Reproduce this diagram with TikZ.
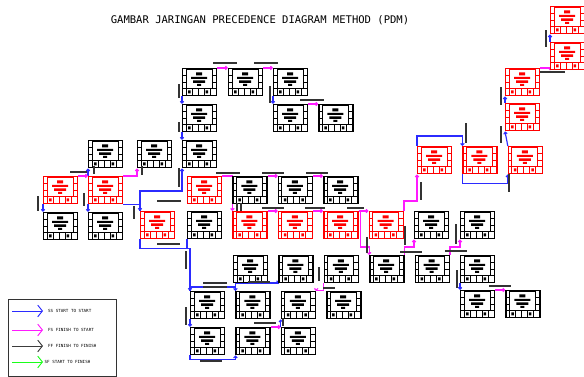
\documentclass[tikz,border=0pt]{standalone}
\usepackage{fontspec}
\newfontfamily\cadfont{DejaVu Sans Mono}
\usetikzlibrary{arrows.meta, positioning, backgrounds}
\definecolor{pdmred}{HTML}{FF0000}
\definecolor{ssblue}{HTML}{2B2BFF}
\definecolor{fsmagenta}{HTML}{FF1AFF}
\definecolor{ffgrey}{HTML}{3C3C3C}
\definecolor{sfgreen}{HTML}{1AFF1A}

% cells of one activity box: #1 node name, #2 colour
\newcommand\taskcells[2]{%
  \begin{scope}[shift={(#1.north west)}, draw=#2, fill=#2, line width=0.6pt]
    \draw (4,1.5) rectangle (30,20.5);
    \draw (0,20.5) -- (34,20.5);
    \draw (0,7.5) -- (4,7.5) (0,14) -- (4,14) (30,7.5) -- (34,7.5) (30,14) -- (34,14);
    \foreach \cx in {4,10,16,22,28} \draw (\cx,20.5) -- (\cx,27);
    \fill (6,22.5) rectangle (8.5,25.5) (23.5,22.5) rectangle (26,25.5);
    \fill (14,4.5) rectangle (20,7.5) (9,9) rectangle (25,11) (11,12.5) rectangle (23,15)
          (15,16) rectangle (19,18);
  \end{scope}}

\begin{document}
\begin{tikzpicture}[
  x=0.03cm, y=-0.03cm,
  taskbox/.style={
    rectangle, draw=#1, fill=white, line width=1.2pt, inner sep=0pt,
    minimum width=1.02cm, minimum height=0.81cm, anchor=north west,
  },
  ss/.style={draw=ssblue, line width=1pt, -{Straight Barb[length=1.5pt,width=3pt]}},
  fs/.style={draw=fsmagenta, line width=1pt, -{Straight Barb[length=1.5pt,width=3pt]}},
  lbl/.style={fill=black!80},
  keyline/.style={line width=0.8pt, -{Straight Barb[length=4pt,width=10pt]}},
  keytext/.style={font=\cadfont\fontsize{3.6}{4}\selectfont, text=black, inner sep=0pt, anchor=west},
  node distance=0.3cm,
]
  \useasboundingbox (0,0) rectangle (584,377);

  % Title
  \node[font=\cadfont\fontsize{9}{10}\selectfont] (title) at (260,20.5)
    {GAMBAR JARINGAN PRECEDENCE DIAGRAM METHOD (PDM)};

  % Upper branch
  \node[taskbox=black] (a1) at (182,68) {};
  \node[taskbox=black] (a2) at (228,68) {};
  \node[taskbox=black] (a3) at (273,68) {};
  \node[taskbox=black] (b1) at (182,104) {};
  \node[taskbox=black] (b2) at (273,104) {};
  \node[taskbox=black, right=of b2] (b3) {};
  \node[taskbox=black] (c1) at (88,140) {};
  \node[taskbox=black] (c2) at (137,140) {};
  \node[taskbox=black] (c3) at (182,140) {};

  % Rows 4 and 5
  \node[taskbox=pdmred] (d1) at (43,176) {};
  \node[taskbox=pdmred] (d2) at (88,176) {};
  \node[taskbox=pdmred] (d3) at (187,176) {};
  \node[taskbox=black, right=of d3] (d4) {};
  \node[taskbox=black, right=of d4] (d5) {};
  \node[taskbox=black, right=of d5] (d6) {};

  \node[taskbox=black] (e1) at (43,212) {};
  \node[taskbox=black] (e2) at (88,212) {};
  \node[taskbox=pdmred] (e3) at (140,211) {};
  \node[taskbox=black] (e4) at (187,211) {};
  \node[taskbox=pdmred, right=of e4] (e5) {};
  \node[taskbox=pdmred, right=of e5] (e6) {};
  \node[taskbox=pdmred, right=of e6] (e7) {};
  \node[taskbox=pdmred, right=of e7] (e8) {};
  \node[taskbox=black, right=of e8] (e9) {};
  \node[taskbox=black] (e10) at (460,211) {};

  % Lower rows
  \node[taskbox=black] (f1) at (233,255) {};
  \node[taskbox=black, right=of f1] (f2) {};
  \node[taskbox=black, right=of f2] (f3) {};
  \node[taskbox=black, right=of f3] (f4) {};
  \node[taskbox=black, right=of f4] (f5) {};
  \node[taskbox=black] (f6) at (460,255) {};

  \node[taskbox=black] (g1) at (190,291) {};
  \node[taskbox=black, right=of g1] (g2) {};
  \node[taskbox=black, right=of g2] (g3) {};
  \node[taskbox=black, right=of g3] (g4) {};
  \node[taskbox=black] (g5) at (460,290) {};
  \node[taskbox=black, right=of g5] (g6) {};

  \node[taskbox=black] (h1) at (190,327) {};
  \node[taskbox=black, right=of h1] (h2) {};
  \node[taskbox=black, right=of h2] (h3) {};

  % Right critical column
  \node[taskbox=pdmred] (r1) at (417,146) {};
  \node[taskbox=pdmred, right=of r1] (r2) {};
  \node[taskbox=pdmred, right=of r2] (r3) {};
  \node[taskbox=pdmred] (r4) at (505,103) {};
  \node[taskbox=pdmred] (r5) at (505,68) {};
  \node[taskbox=pdmred] (r6) at (550,42) {};
  \node[taskbox=pdmred] (r7) at (550,6) {};

  % box cells
  \foreach \n in {a1,a2,a3,b1,b2,b3,c1,c2,c3,d4,d5,d6,e1,e2,e4,e9,e10,
                  f1,f2,f3,f4,f5,f6,g1,g2,g3,g4,g5,g6,h1,h2,h3}
    {\taskcells{\n}{black}}
  \foreach \n in {d1,d2,d3,e3,e5,e6,e7,e8,r1,r2,r3,r4,r5,r6,r7}
    {\taskcells{\n}{pdmred}}

  % Legend
  \node[draw=black!80, line width=0.8pt, minimum width=3.24cm, minimum height=2.31cm,
        inner sep=0pt, anchor=north west] (key) at (8,299) {};
  \draw[keyline, ssblue] (12,311) -- (43,311) node[keytext, right=4pt] (kss) {SS START TO START};
  \draw[keyline, fsmagenta] (12,330) -- (43,330) node[keytext, right=4pt] (kfs) {FS FINISH TO START};
  \draw[keyline, ffgrey] (12,346) -- (43,346) node[keytext, right=4pt] (kff) {FF FINISH TO FINISH};
  \draw[keyline, sfgreen] (12,362) -- (43,362) node[keytext, right=1pt] (ksf) {SF START TO FINISH};

  % Links
  \begin{scope}[on background layer]
    \draw[fs] (a1.north east) -- (a2.north west);
    \draw[fs] (a2.north east) -- (a3.north west);
    \draw[ss] (a1.south west) -- (b1.north west);
    \draw[ss] (a3.south west) -- (b2.north west);
    \draw[fs] (b2.north east) -- (b3.north west);
    \draw[ss] (b1.south west) -- (c3.north west);

    \draw[ss] (d2.north west) -- (c1.south west);
    \draw[fs] (d1.north east) -- (d2.north west);
    \draw[fs] (d2.north east) -| (c2.south west);
    \draw[ss] (d1.south west) -- (e1.north west);
    \draw[ss] (d2.south west) -- (e2.north west);
    \draw[ss] (d2.south east) -| (e3.north west);
    \draw[ss] (e3.north west) -- ++(0,-20) -| (c3.south west);
    \draw[fs] (d3.north east) -| (e5.north west);
    \draw[fs] (d4.north east) -- (d5.north west);
    \draw[fs] (d5.north east) -- (d6.north west);

    \draw[fs] (e5.north east) -- (e6.north west);
    \draw[fs] (e6.north east) -- (e7.north west);
    \draw[fs] (e7.north east) -- (e8.north west);
    \draw[fs] (e7.north east) -- ++(2,0) -- ++(0,36) -| (f4.north west);
    \draw[fs] (e8.north east) -- ++(0,-10) -| (r1.south west);
    \draw[fs] (f4.north east) -- ++(0,-8) -| (e9.south west);
    \draw[fs] (f5.north east) -- ++(0,-8) -| (e10.south west);
    \draw[ss] (f6.south west) -- (g5.north west);
    \draw[fs] (g5.north east) -- (g6.north west);

    \draw[ss] (e3.south west) -- ++(0,9) -| (g1.north west);
    \draw[draw=ssblue, line width=1pt] (e4.south west) -- ++(0,9);
    \draw[ss] (g1.south west) -- (h1.north west);
    \draw[ss] (h1.south west) -- ++(0,4) -| (h2.south west);
    \draw[ss] (g1.north west) -- ++(0,-4) -| (g2.north west);
    \draw[ss] (g2.north west) -- ++(0,-8) -| (f2.south west);
    \draw[fs] (h2.north east) -- (h3.north west);
    \draw[ss] (h3.north west) -- (g3.south west);
    \draw[fs] (f3.south west) -- ++(0,7) -| (g3.north east);

    \draw[ss] (r1.north west) -- ++(0,-10) -| (r2.north west);
    \draw[ss] (r2.south west) -- ++(0,9) -| (r3.south west);
    \draw[ss] (r3.north west) -- (r4.south west);
    \draw[ss] (r4.north west) -- (r5.south west);
    \draw[fs] (r5.north east) -| (r6.south west);
    \draw[ss] (r6.north west) -- (r7.south west);
  \end{scope}

  % Lag labels (too small to read)
  \fill[lbl] (213,62) rectangle ++(24,2);
  \fill[lbl] (254,62) rectangle ++(24,2);
  \fill[lbl] (300,99) rectangle ++(24,2);
  \fill[lbl] (70,171) rectangle ++(17,2);
  \fill[lbl] (157,200) rectangle ++(24,2);
  \fill[lbl] (216,172) rectangle ++(24,2);
  \fill[lbl] (262,172) rectangle ++(22,2);
  \fill[lbl] (306,172) rectangle ++(22,2);
  \fill[lbl] (262,207) rectangle ++(22,2);
  \fill[lbl] (305,207) rectangle ++(20,2);
  \fill[lbl] (347,207) rectangle ++(17,2);
  \fill[lbl] (157,243.5) rectangle ++(23,2);
  \fill[lbl] (400,251) rectangle ++(22,2);
  \fill[lbl] (445,250) rectangle ++(22,2);
  \fill[lbl] (489,285.5) rectangle ++(22,2);
  \fill[lbl] (203,282) rectangle ++(24,2);
  \fill[lbl] (203,286) rectangle ++(24,2);
  \fill[lbl] (248,281.5) rectangle ++(22,2);
  \fill[lbl] (254,322) rectangle ++(22,2);
  \fill[lbl] (200,360) rectangle ++(22,2);
  \fill[lbl] (540,71) rectangle ++(25,2);
  \fill[lbl] (323,287.5) rectangle ++(12,2);

  \fill[lbl] (178,84) rectangle ++(2,14);
  \fill[lbl] (269,86) rectangle ++(2,17);
  \fill[lbl] (178,122) rectangle ++(2,10);
  \fill[lbl] (178,168) rectangle ++(2,19);
  \fill[lbl] (93,166) rectangle ++(2,8);
  \fill[lbl] (141,166) rectangle ++(2,9);
  \fill[lbl] (37,196) rectangle ++(2,15);
  \fill[lbl] (83,193) rectangle ++(2,13);
  \fill[lbl] (133,206) rectangle ++(2,13);
  \fill[lbl] (236,203) rectangle ++(2,8);
  \fill[lbl] (240,203) rectangle ++(2,8);
  \fill[lbl] (185,251) rectangle ++(2,18);
  \fill[lbl] (366,237) rectangle ++(2,16);
  \fill[lbl] (420,182) rectangle ++(2,18);
  \fill[lbl] (465,123) rectangle ++(2,20);
  \fill[lbl] (508,174) rectangle ++(2,18);
  \fill[lbl] (500,126) rectangle ++(2,17);
  \fill[lbl] (500,87) rectangle ++(2,18);
  \fill[lbl] (545,30) rectangle ++(2,17);
  \fill[lbl] (404,226) rectangle ++(2,19);
  \fill[lbl] (455,224) rectangle ++(2,20);
  \fill[lbl] (456,270) rectangle ++(2,18);
  \fill[lbl] (185,307) rectangle ++(2,18);
  \fill[lbl] (282,318) rectangle ++(2,8);
  \fill[lbl] (318,267) rectangle ++(2,14);
\end{tikzpicture}
\end{document}
